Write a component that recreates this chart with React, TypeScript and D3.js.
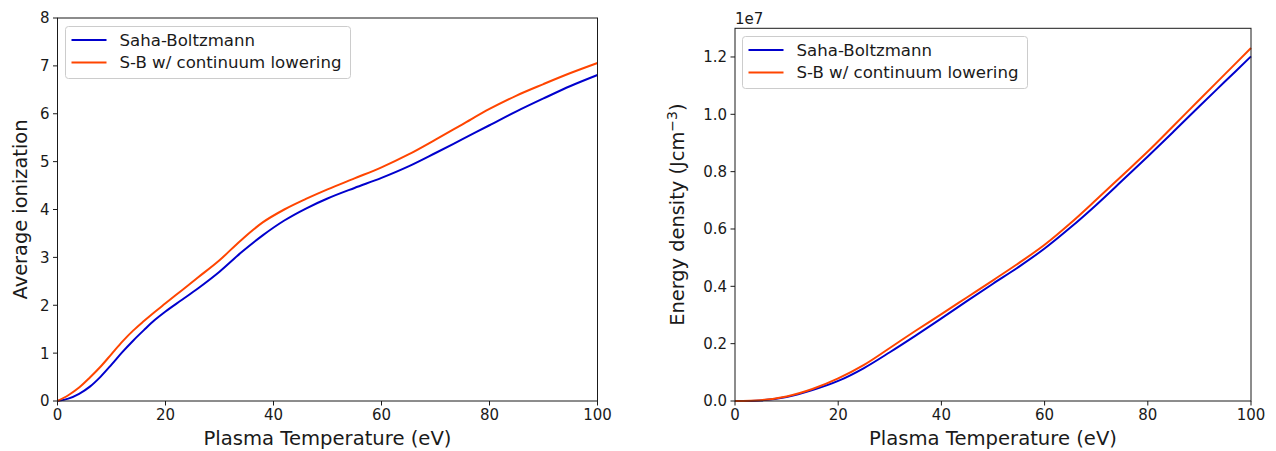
import React from "react";
import * as d3 from "d3";

// ---------- Data ----------
const TEMPS_Z = [0, 2, 4, 6, 8, 10, 12, 14, 16, 18, 20, 23, 26, 30, 34, 38, 42, 46, 50, 55, 60, 65, 70, 75, 80, 85, 90, 95, 100];
const Z_SAHA = [0, 0.05, 0.15, 0.3, 0.51, 0.76, 1.02, 1.26, 1.48, 1.69, 1.87, 2.11, 2.35, 2.7, 3.1, 3.46, 3.77, 4.02, 4.23, 4.45, 4.66, 4.9, 5.18, 5.47, 5.76, 6.05, 6.32, 6.58, 6.81];
const Z_LOWER = [0, 0.12, 0.28, 0.49, 0.72, 0.98, 1.24, 1.47, 1.67, 1.86, 2.04, 2.31, 2.58, 2.94, 3.36, 3.73, 4.0, 4.22, 4.42, 4.65, 4.88, 5.15, 5.46, 5.78, 6.1, 6.38, 6.62, 6.85, 7.06];

const TEMPS_E = [0, 5, 10, 15, 20, 25, 30, 35, 40, 45, 50, 55, 60, 65, 70, 75, 80, 85, 90, 95, 100];
const E_SAHA = [0, 0.002, 0.014, 0.038, 0.07, 0.115, 0.17, 0.228, 0.288, 0.349, 0.409, 0.468, 0.532, 0.605, 0.684, 0.768, 0.853, 0.94, 1.028, 1.115, 1.202];
const E_LOWER = [0, 0.003, 0.016, 0.042, 0.079, 0.126, 0.185, 0.245, 0.303, 0.362, 0.421, 0.481, 0.545, 0.62, 0.702, 0.786, 0.87, 0.96, 1.051, 1.141, 1.231];

const X_TICKS = [0, 20, 40, 60, 80, 100];
const Z_TICKS = [0, 1, 2, 3, 4, 5, 6, 7, 8];
const E_TICKS = [0, 0.2, 0.4, 0.6, 0.8, 1.0, 1.2];

const SERIES_NAMES = ["Saha-Boltzmann", "S-B w/ continuum lowering"];
const COLORS = ["#0000cd", "#ff4500"];

const FONT = "DejaVu Sans, sans-serif";
const TXT = "#1a1a1a";

type PanelProps = {
  x0: number; x1: number; y0: number; y1: number;
  yMax: number; yTicks: number[]; yFmt: (v: number) => string;
  xs: number[]; series: number[][];
  yLabel: React.ReactNode; yLabelX: number;
  legendX: number; legendY: number;
  offsetText?: string;
};

function Panel(p: PanelProps) {
  const x = d3.scaleLinear().domain([0, 100]).range([p.x0, p.x1]);
  const y = d3.scaleLinear().domain([0, p.yMax]).range([p.y1, p.y0]);
  const line = d3.line<[number, number]>()
    .x((d) => x(d[0]))
    .y((d) => y(d[1]))
    .curve(d3.curveCatmullRom.alpha(0.5));
  const cy = (p.y0 + p.y1) / 2;
  const cx = (p.x0 + p.x1) / 2;
  return (
    <g>
      {p.series.map((s, i) => (
        <path key={i} d={line(p.xs.map((t, j) => [t, s[j]] as [number, number])) || ""}
          fill="none" stroke={COLORS[i]} strokeWidth={2} />
      ))}
      <rect x={p.x0} y={p.y0} width={p.x1 - p.x0} height={p.y1 - p.y0}
        fill="none" stroke={TXT} strokeWidth={1} />
      {X_TICKS.map((t) => (
        <g key={"x" + t}>
          <line x1={x(t)} x2={x(t)} y1={p.y1} y2={p.y1 + 4.5} stroke={TXT} strokeWidth={1} />
          <text x={x(t)} y={p.y1 + 19} textAnchor="middle" fontFamily={FONT} fontSize={15} fill={TXT}>{t}</text>
        </g>
      ))}
      {p.yTicks.map((t) => (
        <g key={"y" + t}>
          <line x1={p.x0 - 4.5} x2={p.x0} y1={y(t)} y2={y(t)} stroke={TXT} strokeWidth={1} />
          <text x={p.x0 - 8} y={y(t)} dy="0.36em" textAnchor="end" fontFamily={FONT} fontSize={15} fill={TXT}>{p.yFmt(t)}</text>
        </g>
      ))}
      <text x={cx} y={445} textAnchor="middle" fontFamily={FONT} fontSize={19.6} fill={TXT}>Plasma Temperature (eV)</text>
      <text transform={`translate(${p.yLabelX},${cy}) rotate(-90)`} textAnchor="middle" fontFamily={FONT} fontSize={19.4} fill={TXT}>{p.yLabel}</text>
      {p.offsetText && (
        <text x={p.x0} y={24} fontFamily={FONT} fontSize={15} fill={TXT}>{p.offsetText}</text>
      )}
      <g transform={`translate(${p.legendX},${p.legendY})`}>
        <rect x={0} y={0} width={285} height={52} rx={3} fill="white" fillOpacity={0.8} stroke="#cccccc" strokeWidth={1} />
        {SERIES_NAMES.map((n, i) => (
          <g key={n} transform={`translate(0,${13.5 + i * 22.5})`}>
            <line x1={6} x2={41} y1={0} y2={0} stroke={COLORS[i]} strokeWidth={2} />
            <text x={54} y={0} dy="0.36em" fontFamily={FONT} fontSize={16.6} fill={TXT}>{n}</text>
          </g>
        ))}
      </g>
    </g>
  );
}

export default function App() {
  return (
    <div style={{ position: "absolute", left: 0, top: 0 }}>
      <svg width={1276} height={451} style={{ display: "block", background: "white" }}>
        <Panel x0={57.5} x1={597.5} y0={18} y1={401} yMax={8} yTicks={Z_TICKS}
          yFmt={(v) => d3.format("d")(v)} xs={TEMPS_Z} series={[Z_SAHA, Z_LOWER]}
          yLabel="Average ionization" yLabelX={27} legendX={65.5} legendY={26.5} />
        <Panel x0={735} x1={1251} y0={28.3} y1={401} yMax={1.3} yTicks={E_TICKS}
          yFmt={(v) => d3.format(".1f")(v)} xs={TEMPS_E} series={[E_SAHA, E_LOWER]}
          yLabel={<>
            <tspan>Energy density (Jcm</tspan>
            <tspan dy={-7} fontSize={14}>−3</tspan>
            <tspan dy={7}>)</tspan>
          </>}
          yLabelX={684} legendX={742.5} legendY={36.5} offsetText="1e7" />
      </svg>
    </div>
  );
}
